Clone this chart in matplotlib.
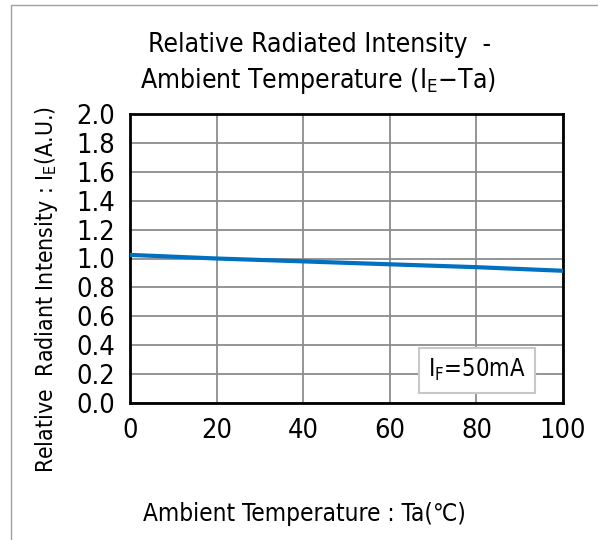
import matplotlib.pyplot as plt
import matplotlib.patches as patches

temp = [0, 20, 40, 60, 80, 100]
intensity = [1.025, 1.0, 0.98, 0.96, 0.94, 0.915]
xticks = [0, 20, 40, 60, 80, 100]
yticks = [0.0, 0.2, 0.4, 0.6, 0.8, 1.0, 1.2, 1.4, 1.6, 1.8, 2.0]

plt.rcParams['font.family'] = ['DejaVu Sans', 'Noto Sans CJK JP']
plt.rcParams['font.stretch'] = 'condensed'
plt.rcParams['mathtext.default'] = 'regular'

fig = plt.figure(figsize=(5.98, 5.4), dpi=100)
ax = fig.add_axes([130/598, 1-403/540, 433/598, 289/540])

ax.plot(temp, intensity, color='#0070C0', linewidth=3, solid_capstyle='butt', zorder=3)
ax.set_xlim(0, 100)
ax.set_ylim(0, 2.0)
ax.set_xticks(xticks)
ax.set_yticks(yticks)
ax.set_yticklabels([f'{v:.1f}' for v in yticks])
ax.tick_params(length=0, labelsize=19.5)
ax.tick_params(axis='y', pad=11)
ax.tick_params(axis='x', pad=11)
ax.grid(True, color='#8c8c8c', linewidth=1.3)
for s in ax.spines.values():
    s.set_linewidth(2)
    s.set_color('black')

ax.text(0.801, 0.114, r'$I_F$=50mA', transform=ax.transAxes, ha='center', va='center',
        fontsize=17, zorder=5,
        bbox=dict(boxstyle='square,pad=0.4', facecolor='white', edgecolor='#c8c8c8', linewidth=1.5))

fig.text(320/598, 1-45/540, 'Relative Radiated Intensity  -', ha='center', va='center', fontsize=19)
fig.text(318/598, 1-81/540, r'Ambient Temperature ($I_E$$-$Ta)', ha='center', va='center', fontsize=19)
fig.text(304/598, 1-514/540, 'Ambient Temperature : Ta(℃)', ha='center', va='center', fontsize=17.5)
fig.text(47/598, 1-290/540, r'Relative  Radiant Intensity : $I_E$(A.U.)', ha='center', va='center',
         rotation=90, fontsize=16.5)

# outer frame of the original figure
fig.patches.append(patches.Rectangle((11/598, -0.1), 1.2, 1 - 5/540 + 0.1, transform=fig.transFigure,
                                     fill=False, edgecolor='#a0a0a0', linewidth=1))

fig.savefig('out.png', dpi=100)
